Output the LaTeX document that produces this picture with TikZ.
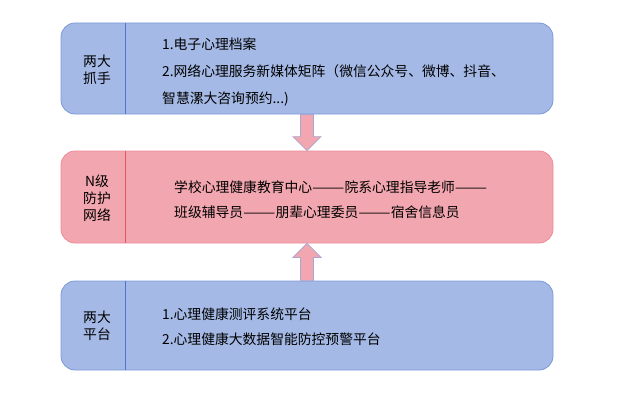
\documentclass[tikz,border=0pt]{standalone}
\usepackage{fontspec}
\setmainfont{Noto Sans CJK SC}
\usetikzlibrary{calc}
\definecolor{clrBlue}{HTML}{A4B9E5}
\definecolor{clrBlueLine}{HTML}{7C98D8}
\definecolor{clrBlueDiv}{HTML}{4A78D0}
\definecolor{clrPink}{HTML}{F2A6AF}
\definecolor{clrPinkLine}{HTML}{EE8C99}
\definecolor{clrPinkDiv}{HTML}{E8525F}
\definecolor{clrArrowLine}{HTML}{A7A6D2}
\newcommand{\widedash}{\scalebox{1.4}[1]{——}}

\begin{document}
\begin{tikzpicture}[
    x=1pt, y=-1pt,
    panel/.style={rectangle, minimum width=492pt, rounded corners=14pt, line width=0.8pt},
    tag/.style={align=center, inner sep=0pt, font=\fontsize{13.8}{17}\selectfont},
    body/.style={anchor=west, align=left, inner sep=0pt},
    divider/.style={line width=0.9pt},
    blockarrow/.style={fill=clrPink, draw=clrArrowLine, line width=0.7pt, line join=miter},
]
\useasboundingbox (0,0) rectangle (620,401);

\node[panel, draw=clrBlueLine, fill=clrBlue, minimum height=91pt] (grips) at (307, 68.5) {};
\node[panel, draw=clrPinkLine, fill=clrPink, minimum height=92pt] (network) at (307, 197) {};
\node[panel, draw=clrBlueLine, fill=clrBlue, minimum height=89pt] (platforms) at (307, 325.5) {};

% left column separators
\draw[divider, clrBlueDiv] ([xshift=65pt]grips.north west) -- ([xshift=65pt]grips.south west);
\draw[divider, clrPinkDiv] ([xshift=65pt]network.north west) -- ([xshift=65pt]network.south west);
\draw[divider, clrBlueDiv] ([xshift=65pt]platforms.north west) -- ([xshift=65pt]platforms.south west);

\node[tag] (gripstag) at (97, 70) {两大\\抓手};
\node[tag] (networktag) at (97, 198) {N级\\防护\\网络};
\node[tag] (platformstag) at (97, 326) {两大\\平台};

\node[body, font=\fontsize{13.8}{27}\selectfont] (gripstext) at (162, 72.5)
    {1.电子心理档案\\2.网络心理服务新媒体矩阵（微信公众号、微博、抖音、\\智慧漯大咨询预约...)};
\node[body, font=\fontsize{13.8}{25}\selectfont] (networktext) at (174, 199.5)
    {学校心理健康教育中心\widedash 院系心理指导老师\widedash\\班级辅导员\widedash 朋辈心理委员\widedash 宿舍信息员};
\node[body, font=\fontsize{13.8}{25}\selectfont] (platformstext) at (162, 326.5)
    {1.心理健康测评系统平台\\2.心理健康大数据智能防控预警平台};

% block arrows into the network
\draw[blockarrow] ([xshift=-6.5pt]grips.south) -- ([xshift=-6.5pt,yshift=14pt]network.north)
    -- ([xshift=-14pt,yshift=14pt]network.north) -- (network.north)
    -- ([xshift=14pt,yshift=14pt]network.north) -- ([xshift=6.5pt,yshift=14pt]network.north)
    -- ([xshift=6.5pt]grips.south) -- cycle;
\draw[blockarrow] ([xshift=-6.5pt]platforms.north) -- ([xshift=-6.5pt,yshift=-14pt]network.south)
    -- ([xshift=-14pt,yshift=-14pt]network.south) -- (network.south)
    -- ([xshift=14pt,yshift=-14pt]network.south) -- ([xshift=6.5pt,yshift=-14pt]network.south)
    -- ([xshift=6.5pt]platforms.north) -- cycle;

\end{tikzpicture}
\end{document}
